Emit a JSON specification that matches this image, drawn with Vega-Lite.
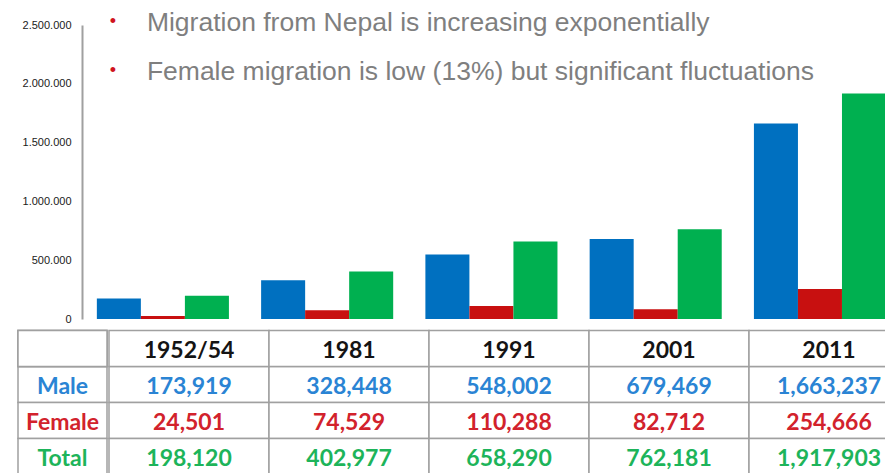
{
  "$schema": "https://vega.github.io/schema/vega-lite/v6.json",
  "padding": {"left": 17, "top": 9, "right": 0, "bottom": 0},
  "background": "white",
  "datasets": {
    "migration": [
      {"year": "1952/54", "sex": "Male", "value": 173919},
      {"year": "1952/54", "sex": "Female", "value": 24501},
      {"year": "1952/54", "sex": "Total", "value": 198120},
      {"year": "1981", "sex": "Male", "value": 328448},
      {"year": "1981", "sex": "Female", "value": 74529},
      {"year": "1981", "sex": "Total", "value": 402977},
      {"year": "1991", "sex": "Male", "value": 548002},
      {"year": "1991", "sex": "Female", "value": 110288},
      {"year": "1991", "sex": "Total", "value": 658290},
      {"year": "2001", "sex": "Male", "value": 679469},
      {"year": "2001", "sex": "Female", "value": 82712},
      {"year": "2001", "sex": "Total", "value": 762181},
      {"year": "2011", "sex": "Male", "value": 1663237},
      {"year": "2011", "sex": "Female", "value": 254666},
      {"year": "2011", "sex": "Total", "value": 1917903}
    ],
    "notes": [
      {"note": "Migration from Nepal is increasing exponentially"},
      {"note": "Female migration is low (13%) but significant fluctuations"}
    ]
  },
  "vconcat": [
    {
      "width": 868,
      "height": 294,
      "resolve": {"axis": {"x": "independent", "y": "independent"}},
      "layer": [
        {
          "data": {"name": "migration"},
          "mark": {"type": "bar"},
          "encoding": {
            "x": {
              "field": "year", "type": "nominal",
              "sort": ["1952/54", "1981", "1991", "2001", "2011"],
              "scale": {"paddingInner": 0.196, "paddingOuter": 0.24, "align": 1},
              "axis": null
            },
            "xOffset": {
              "field": "sex", "type": "nominal",
              "sort": ["Male", "Female", "Total"],
              "scale": {"paddingInner": 0, "paddingOuter": 0}
            },
            "y": {
              "field": "value", "type": "quantitative",
              "scale": {"domain": [0, 2500000], "nice": false},
              "axis": {
                "title": null,
                "values": [0, 500000, 1000000, 1500000, 2000000, 2500000],
                "labelExpr": "replace(format(datum.value, ','), /,/g, '.')",
                "offset": -64,
                "domain": true,
                "ticks": false,
                "grid": false,
                "domainColor": "#A0A0A0",
                "domainWidth": 2,
                "domainOpacity": 1,
                "labelPadding": 11,
                "labelFont": "Liberation Sans",
                "labelFontSize": 11,
                "labelColor": "#1A1A1A"
              }
            },
            "color": {
              "field": "sex", "type": "nominal",
              "scale": {"domain": ["Male", "Female", "Total"], "range": ["#0070C0", "#C81010", "#00B050"]},
              "legend": null
            }
          }
        },
        {
          "data": {"name": "notes"},
          "transform": [{"filter": "datum.note === 'Migration from Nepal is increasing exponentially'"}],
          "encoding": {
            "x": {"datum": "1952/54", "type": "nominal", "axis": null},
            "y": {"datum": 2453000, "type": "quantitative", "axis": null}
          },
          "layer": [
            {"mark": {"type": "text", "text": "•", "align": "center", "baseline": "alphabetic", "dx": -50, "dy": -4, "fontSize": 18, "font": "Liberation Sans", "color": "#D0141E"}},
            {"mark": {"type": "text", "align": "left", "baseline": "alphabetic", "dx": -16, "fontSize": 26.5, "font": "Liberation Sans", "color": "#7F7F7F"}, "encoding": {"text": {"field": "note"}}}
          ]
        },
        {
          "data": {"name": "notes"},
          "transform": [{"filter": "datum.note !== 'Migration from Nepal is increasing exponentially'"}],
          "encoding": {
            "x": {"datum": "1952/54", "type": "nominal", "axis": null},
            "y": {"datum": 2036500, "type": "quantitative", "axis": null}
          },
          "layer": [
            {"mark": {"type": "text", "text": "•", "align": "center", "baseline": "alphabetic", "dx": -50, "dy": -4, "fontSize": 18, "font": "Liberation Sans", "color": "#D0141E"}},
            {"mark": {"type": "text", "align": "left", "baseline": "alphabetic", "dx": -16, "fontSize": 26.5, "font": "Liberation Sans", "color": "#7F7F7F"}, "encoding": {"text": {"field": "note"}}}
          ]
        }
      ]
    },
    {
      "hconcat": [
        {
          "width": 89,
          "height": 144,
          "data": {"name": "migration"},
          "transform": [{"filter": "datum.year === '1952/54'"}],
          "layer": [
            {
              "mark": {"type": "rect", "fill": "white", "stroke": "#A0A0A0", "strokeWidth": 1.5},
              "encoding": {
                "y": {"field": "sex", "type": "nominal", "scale": {"domain": ["Year", "Male", "Female", "Total"], "paddingInner": 0, "paddingOuter": 0}, "axis": null}
              }
            },
            {
              "mark": {"type": "rect", "fill": "white", "stroke": "#A0A0A0", "strokeWidth": 1.5},
              "encoding": {
                "y": {"datum": "Year", "type": "nominal", "axis": null}
              }
            },
            {
              "mark": {"type": "text", "align": "center", "baseline": "middle", "dy": 2, "font": "Lato", "fontWeight": "bold", "fontSize": 23},
              "encoding": {
                "y": {"field": "sex", "type": "nominal", "axis": null},
                "text": {"field": "sex"},
                "fill": {"field": "sex", "type": "nominal", "scale": {"domain": ["Male", "Female", "Total"], "range": ["#2A84D4", "#D2222C", "#1DB45A"]}, "legend": null}
              }
            }
          ]
        },
        {
          "width": 800,
          "height": 144,
          "data": {"name": "migration"},
          "layer": [
            {
              "mark": {"type": "rect", "fill": "white", "stroke": "#A0A0A0", "strokeWidth": 1.5},
              "encoding": {
                "x": {"field": "year", "type": "nominal", "sort": ["1952/54", "1981", "1991", "2001", "2011"], "scale": {"paddingInner": 0, "paddingOuter": 0}, "axis": null},
                "y": {"field": "sex", "type": "nominal", "scale": {"domain": ["Year", "Male", "Female", "Total"], "paddingInner": 0, "paddingOuter": 0}, "axis": null}
              }
            },
            {
              "transform": [{"filter": "datum.sex === 'Male'"}],
              "mark": {"type": "rect", "fill": "white", "stroke": "#A0A0A0", "strokeWidth": 1.5},
              "encoding": {
                "x": {"field": "year", "type": "nominal", "sort": ["1952/54", "1981", "1991", "2001", "2011"], "axis": null},
                "y": {"datum": "Year", "type": "nominal", "axis": null}
              }
            },
            {
              "transform": [{"filter": "datum.sex === 'Male'"}],
              "mark": {"type": "text", "align": "center", "baseline": "middle", "dy": 2, "font": "Lato", "fontWeight": "bold", "fontSize": 23, "color": "#141414"},
              "encoding": {
                "x": {"field": "year", "type": "nominal", "sort": ["1952/54", "1981", "1991", "2001", "2011"], "axis": null},
                "y": {"datum": "Year", "type": "nominal", "axis": null},
                "text": {"field": "year"}
              }
            },
            {
              "mark": {"type": "text", "align": "center", "baseline": "middle", "dy": 2, "font": "Lato", "fontWeight": "bold", "fontSize": 23},
              "encoding": {
                "x": {"field": "year", "type": "nominal", "sort": ["1952/54", "1981", "1991", "2001", "2011"], "axis": null},
                "y": {"field": "sex", "type": "nominal", "axis": null},
                "text": {"field": "value", "type": "quantitative", "format": ","},
                "fill": {"field": "sex", "type": "nominal", "scale": {"domain": ["Male", "Female", "Total"], "range": ["#2A84D4", "#D2222C", "#1DB45A"]}, "legend": null}
              }
            }
          ]
        }
      ],
      "spacing": 0
    }
  ],
  "spacing": 11.5,
  "bounds": "flush",
  "resolve": {"scale": {"x": "independent", "y": "independent", "color": "independent", "fill": "independent"}},
  "config": {"view": {"stroke": null}}
}
